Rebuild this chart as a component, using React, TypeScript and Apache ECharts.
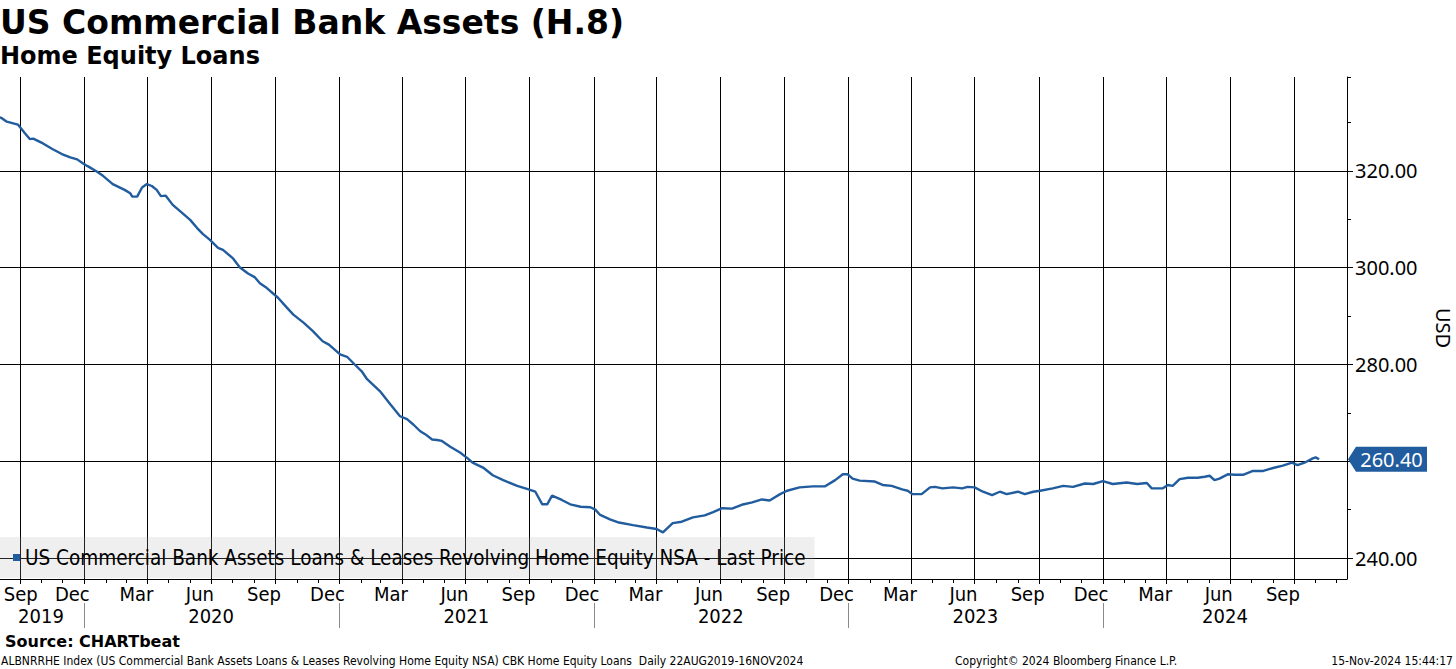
import React, { useEffect, useRef } from 'react';
import * as echarts from 'echarts';

const TITLE = 'US Commercial Bank Assets (H.8)';
const SUBTITLE = 'Home Equity Loans';
const SERIES_NAME = 'US Commercial Bank Assets Loans & Leases Revolving Home Equity NSA - Last Price';
const SOURCE = 'Source: CHARTbeat';
const FOOTER = 'ALBNRRHE Index (US Commercial Bank Assets Loans & Leases Revolving Home Equity NSA) CBK Home Equity Loans  Daily 22AUG2019-16NOV2024';
const COPYRIGHT = 'Copyright\u00A9 2024 Bloomberg Finance L.P.';
const STAMP = '15-Nov-2024 15:44:17';
const Y_NAME = 'USD';

const dates = [
  '2019-08-21','2019-09-04','2019-09-12','2019-09-28','2019-10-08','2019-10-15','2019-10-20','2019-11-03','2019-11-17','2019-11-30',
  '2019-12-12','2019-12-22','2019-12-30','2020-01-06','2020-01-19','2020-01-28','2020-02-11','2020-02-28','2020-03-07','2020-03-10',
  '2020-03-17','2020-03-24','2020-03-31','2020-04-07','2020-04-14','2020-04-20','2020-04-27','2020-05-07','2020-05-20','2020-06-01',
  '2020-06-11','2020-06-19','2020-06-29','2020-07-11','2020-07-18','2020-08-01','2020-08-11','2020-08-23','2020-09-02','2020-09-09',
  '2020-09-19','2020-10-05','2020-10-18','2020-10-27','2020-11-11','2020-11-24','2020-12-08','2020-12-17','2021-01-02','2021-01-12',
  '2021-01-23','2021-02-02','2021-02-09','2021-02-28','2021-03-15','2021-03-29','2021-04-08','2021-04-17','2021-04-27','2021-05-04',
  '2021-05-14','2021-05-21','2021-05-28','2021-06-09','2021-06-23','2021-07-04','2021-07-11','2021-07-26','2021-08-09','2021-08-24',
  '2021-09-13','2021-09-27','2021-10-09','2021-10-19','2021-10-26','2021-11-02','2021-11-16','2021-11-28','2021-12-13','2021-12-27',
  '2022-01-03','2022-01-10','2022-01-24','2022-02-04','2022-02-26','2022-03-18','2022-04-01','2022-04-10','2022-04-24','2022-05-07',
  '2022-05-23','2022-06-09','2022-06-21','2022-07-04','2022-07-18','2022-08-01','2022-08-16','2022-08-30','2022-09-10','2022-09-25',
  '2022-10-05','2022-10-23','2022-11-11','2022-11-28','2022-12-13','2022-12-24','2022-12-31','2023-01-07','2023-01-17','2023-02-08',
  '2023-02-19','2023-03-04','2023-03-19','2023-03-27','2023-04-03','2023-04-16','2023-04-28','2023-05-05','2023-05-16','2023-05-31',
  '2023-06-13','2023-06-21','2023-07-01','2023-07-13','2023-07-26','2023-08-06','2023-08-16','2023-09-01','2023-09-11','2023-09-23',
  '2023-10-03','2023-10-21','2023-11-05','2023-11-19','2023-12-06','2023-12-18','2024-01-01','2024-01-15','2024-02-04','2024-02-19',
  '2024-03-04','2024-03-11','2024-03-27','2024-04-03','2024-04-10','2024-04-20','2024-05-02','2024-05-16','2024-05-26','2024-06-02',
  '2024-06-09','2024-06-16','2024-06-28','2024-07-08','2024-07-20','2024-08-03','2024-08-18','2024-09-01','2024-09-15','2024-09-28',
  '2024-10-06','2024-10-16','2024-10-28','2024-11-01','2024-11-06'
];

const values = [
  331.6, 331.0, 330.2, 329.6, 327.8, 326.6, 326.7, 325.7, 324.5, 323.5,
  322.8, 322.4, 321.6, 321.0, 319.9, 319.0, 317.3, 316.1, 315.4, 314.7,
  314.7, 316.6, 317.3, 316.9, 316.1, 314.8, 314.9, 313.0, 311.4, 309.9,
  308.2, 307.0, 305.8, 304.1, 303.7, 302.0, 300.1, 298.8, 298.0, 296.8,
  295.8, 293.8, 291.7, 290.3, 288.6, 286.9, 284.8, 284.1, 282.1, 281.6,
  280.0, 278.6, 277.1, 274.5, 271.8, 269.3, 268.7, 267.6, 266.2, 265.6,
  264.5, 264.4, 264.2, 263.0, 261.8, 260.6, 259.7, 258.7, 257.1, 256.1,
  254.9, 254.3, 253.7, 251.1, 251.1, 252.9, 252.0, 251.1, 250.6, 250.5,
  250.0, 248.9, 248.0, 247.4, 246.8, 246.3, 246.0, 245.3, 247.2, 247.5,
  248.4, 248.8, 249.5, 250.3, 250.2, 251.0, 251.5, 252.1, 251.9, 253.2,
  253.9, 254.6, 254.8, 254.8, 256.1, 257.3, 257.3, 256.4, 256.0, 255.8,
  255.1, 254.9, 254.2, 253.9, 253.2, 253.2, 254.6, 254.7, 254.4, 254.6,
  254.4, 254.7, 254.6, 253.7, 253.0, 253.7, 253.2, 253.7, 253.2, 253.7,
  253.9, 254.4, 254.9, 254.7, 255.4, 255.3, 255.9, 255.3, 255.6, 255.3,
  255.5, 254.4, 254.4, 255.1, 254.9, 256.3, 256.6, 256.6, 256.8, 257.0,
  256.1, 256.4, 257.3, 257.2, 257.2, 258.0, 258.0, 258.6, 259.1, 259.7,
  259.2, 259.7, 260.6, 260.8, 260.4
];

// y-axis gridlines/ticks, labelled values (260 is covered by the last-price tag) and minor ticks
const yGrid = [240, 260, 280, 300, 320];
const yLabels = [240, 280, 300, 320];
const yMinor = [250, 270, 290, 310, 330];

// month labels (label text + the date it is centred on)
const monthLabelTexts = [
  'Sep', 'Dec', 'Mar', 'Jun', 'Sep', 'Dec', 'Mar', 'Jun', 'Sep', 'Dec', 'Mar',
  'Jun', 'Sep', 'Dec', 'Mar', 'Jun', 'Sep', 'Dec', 'Mar', 'Jun', 'Sep'
];
const monthLabelDates = [
  '2019-10-02', '2019-12-15', '2020-03-16', '2020-06-15', '2020-09-15', '2020-12-15', '2021-03-16',
  '2021-06-15', '2021-09-15', '2021-12-15', '2022-03-16', '2022-06-15', '2022-09-15', '2022-12-15',
  '2023-03-16', '2023-06-15', '2023-09-15', '2023-12-15', '2024-03-16', '2024-06-15', '2024-09-15'
];
const yearLabelTexts = ['2019', '2020', '2021', '2022', '2023', '2024'];
const yearLabelDates = ['2019-10-31', '2020-07-01', '2021-07-02', '2022-07-02', '2023-07-02', '2024-06-24'];
const yearBoundaries = ['2020-01-01', '2021-01-01', '2022-01-01', '2023-01-01', '2024-01-01'];

const DAY = 86400000;
const BASE = Date.UTC(2019, 9, 1);
const X_MIN = BASE - 28.7 * DAY;
const X_MAX = BASE + 1903 * DAY;
const Y_MIN = 235.66;
const Y_MAX = 339.43;

const COND = "'DejaVu Sans Condensed', 'DejaVu Sans', sans-serif";
const NOTO = "'Noto Sans', sans-serif";
const BOLD = "'DejaVu Sans', sans-serif";
const BLUE = '#215c9e';

function buildOption() {
  const monthStarts: number[] = [];
  const quarterStarts: number[] = [];
  for (let y = 2019; y <= 2024; y++) {
    for (let m = 0; m < 12; m++) {
      const t = Date.UTC(y, m, 1);
      if (t < X_MIN || t > X_MAX) continue;
      monthStarts.push(t);
      if (m % 3 === 0) quarterStarts.push(t);
    }
  }
  const monthVals = monthLabelDates.map((d) => Date.parse(d));
  const monthMap = new Map<number, string>();
  monthVals.forEach((v, i) => monthMap.set(v, monthLabelTexts[i]));
  const yearVals = yearLabelDates.map((d) => Date.parse(d));
  const yearMap = new Map<number, string>();
  yearVals.forEach((v, i) => yearMap.set(v, yearLabelTexts[i]));
  const yearBounds = yearBoundaries.map((d) => Date.parse(d));

  const data = dates.map((d, i) => [Date.parse(d), values[i]]);
  const last = values[values.length - 1];

  const baseX = {
    type: 'value',
    min: X_MIN,
    max: X_MAX,
    position: 'bottom',
  };

  return {
    animation: false,
    backgroundColor: '#ffffff',
    title: [
      {
        text: TITLE, left: 0, top: 6, padding: 0,
        textStyle: { fontFamily: BOLD, fontWeight: 'bold', fontSize: 33, color: '#000', lineHeight: 33 },
      },
      {
        text: SUBTITLE, left: 0, top: 44, padding: 0,
        textStyle: { fontFamily: BOLD, fontWeight: 'bold', fontSize: 24, color: '#000', lineHeight: 24 },
      },
    ],
    legend: {
      data: [{ name: SERIES_NAME, icon: 'rect' }],
      left: 0,
      top: 537,
      padding: [8, 9, 8, 13],
      itemWidth: 7,
      itemHeight: 7,
      selectedMode: false,
      backgroundColor: 'rgba(176,176,176,0.2)',
      textStyle: { fontFamily: COND, fontSize: 20.5, color: '#000', lineHeight: 25 },
    },
    grid: { left: 0, right: 109, top: 77, bottom: 90, containLabel: false, outerBoundsMode: 'none' },
    xAxis: [
      {
        ...baseX,
        axisLine: { show: true, onZero: false, lineStyle: { color: '#000', width: 1 } },
        axisTick: { show: true, customValues: quarterStarts, length: 5, lineStyle: { color: '#000' } },
        splitLine: { show: true, lineStyle: { color: '#000', width: 1 } },
        axisLabel: {
          show: true,
          customValues: monthVals,
          formatter: (v: number) => monthMap.get(v) || '',
          fontFamily: COND, fontSize: 20, color: '#000', margin: 5,
        },
      },
      {
        ...baseX,
        axisLine: { show: false, onZero: false },
        axisTick: { show: true, customValues: monthStarts, length: 4, lineStyle: { color: '#000' } },
        splitLine: { show: false },
        axisLabel: { show: false },
      },
      {
        ...baseX,
        offset: 24,
        axisLine: { show: false, onZero: false },
        axisTick: { show: true, customValues: yearBounds, length: 25, lineStyle: { color: '#8a8a8a' } },
        splitLine: { show: false },
        axisLabel: {
          show: true,
          customValues: yearVals,
          formatter: (v: number) => yearMap.get(v) || '',
          fontFamily: COND, fontSize: 20, color: '#000', margin: 3,
        },
      },
    ],
    yAxis: [
      {
        type: 'value',
        position: 'right',
        min: Y_MIN,
        max: Y_MAX,
        name: Y_NAME,
        nameLocation: 'middle',
        nameRotate: -90,
        nameGap: 86,
        nameTextStyle: { fontFamily: NOTO, fontSize: 20, color: '#000' },
        axisLine: { show: true, lineStyle: { color: '#000', width: 1 } },
        axisTick: { show: true, customValues: yGrid, length: 6, lineStyle: { color: '#000' } },
        splitLine: { show: true, lineStyle: { color: '#000', width: 1 } },
        axisLabel: { show: false },
      },
      {
        type: 'value',
        position: 'right',
        min: Y_MIN,
        max: Y_MAX,
        axisLine: { show: false },
        axisTick: { show: true, customValues: [...yMinor, Y_MAX], length: 4, lineStyle: { color: '#000' } },
        splitLine: { show: false },
        axisLabel: {
          show: true,
          customValues: yLabels,
          formatter: (v: number) => v.toFixed(2),
          fontFamily: NOTO, fontSize: 20, color: '#000', margin: 8,
        },
      },
    ],
    series: [
      {
        name: SERIES_NAME,
        type: 'line',
        xAxisIndex: 0,
        yAxisIndex: 0,
        data,
        showSymbol: false,
        symbol: 'none',
        z: 3,
        color: BLUE,
        lineStyle: { color: BLUE, width: 2.4 },
        markPoint: {
          silent: true,
          symbol: 'path://M0,12.5L8,0L79,0L79,25L8,25Z',
          symbolSize: [79, 25],
          symbolOffset: [40.5, 0],
          itemStyle: { color: BLUE },
          label: {
            show: true,
            position: 'inside',
            formatter: last.toFixed(2),
            color: '#fff',
            fontFamily: NOTO,
            fontSize: 20,
            offset: [4, 0],
          },
          data: [{ coord: [X_MAX, last] }],
        },
      },
    ],
    graphic: [
      {
        type: 'text', x: 5, y: 641,
        style: { text: SOURCE, fontFamily: BOLD, fontWeight: 'bold', fontSize: 16, fill: '#000', verticalAlign: 'middle' },
      },
      {
        type: 'text', x: 1, y: 661,
        style: { text: FOOTER, fontFamily: COND, fontSize: 12, fill: '#000', verticalAlign: 'middle' },
      },
      {
        type: 'text', x: 955, y: 661,
        style: { text: COPYRIGHT, fontFamily: COND, fontSize: 12, fill: '#000', verticalAlign: 'middle' },
      },
      {
        type: 'text', x: 1453, y: 661,
        style: { text: STAMP, fontFamily: COND, fontSize: 12, fill: '#000', align: 'right', verticalAlign: 'middle' },
      },
    ],
  };
}

export default function App() {
  const ref = useRef<HTMLDivElement>(null);
  useEffect(() => {
    if (!ref.current) return;
    const chart = echarts.init(ref.current, null, { renderer: 'svg' });
    chart.setOption(buildOption() as any);
    return () => chart.dispose();
  }, []);
  return (
    <div
      ref={ref}
      style={{ position: 'absolute', left: 0, top: 0, width: 1456, height: 669, background: '#fff' }}
    />
  );
}
